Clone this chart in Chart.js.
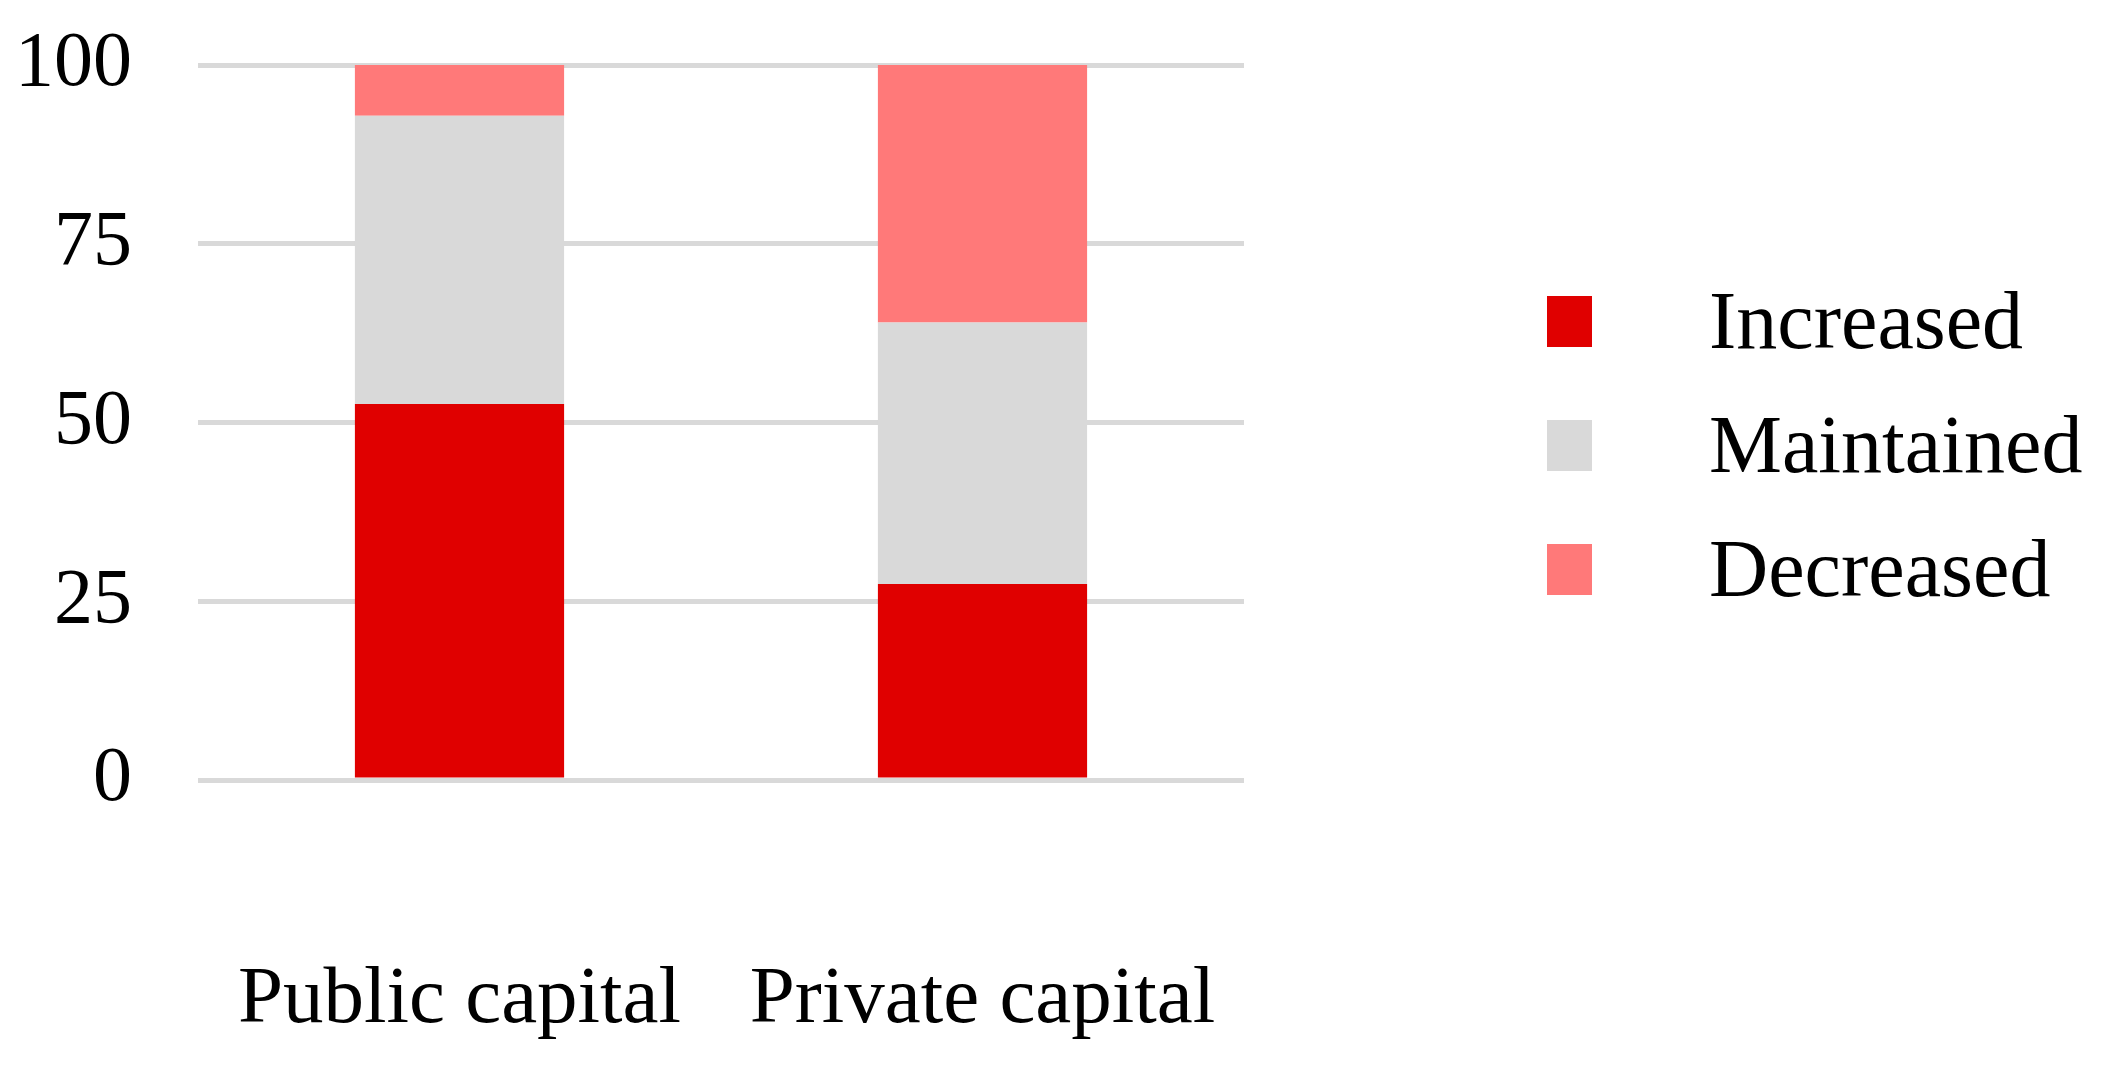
<!DOCTYPE html>
<html lang="en">
<head>
    <meta charset="UTF-8">
    <title>Capital change</title>
    <script src="https://cdn.jsdelivr.net/npm/chart.js"></script>
    <style>
        body {
            margin: 0;
            background: #ffffff;
            font-family: "Liberation Serif", serif;
        }

        #wrap {
            position: relative;
            width: 2123px;
            height: 1068px;
        }

        #legend {
            position: absolute;
            left: 1547px;
            top: 290px;
        }

        .item {
            display: flex;
            align-items: center;
            height: 62px;
            margin-bottom: 62px;
        }

        .box {
            width: 45px;
            height: 51px;
            margin-right: 117px;
        }

        .item span {
            font-size: 82px;
            color: #000;
            line-height: 1;
        }
    </style>
</head>
<body>

<div id="wrap">
    <canvas id="chart" width="2123" height="1068"></canvas>
    <div id="legend"></div>
</div>

<script>
    // data (percent)
    const categories = ['Public capital', 'Private capital'];
    const increased = [52.6, 27.4];
    const maintained = [40.3, 36.6];
    const decreased = [7.1, 36.0];
    const yTicks = [0, 25, 50, 75, 100];

    const seriesNames = ['Increased', 'Maintained', 'Decreased'];
    const seriesColors = ['#E00000', '#D9D9D9', '#FF7979'];
    const seriesData = [increased, maintained, decreased];

    const datasets = seriesNames.map((name, i) => ({
        label: name,
        data: seriesData[i],
        backgroundColor: seriesColors[i],
        borderWidth: 0,
        barPercentage: 0.4,
        categoryPercentage: 1
    }));

    Chart.defaults.font.family = '"Liberation Serif", serif';
    Chart.defaults.color = '#000';

    new Chart(document.getElementById('chart'), {
        type: 'bar',
        data: { labels: categories, datasets: datasets },
        options: {
            responsive: false,
            animation: false,
            layout: { padding: { top: 65, right: 879, left: 0, bottom: 0 } },
            plugins: {
                legend: { display: false },
                tooltip: { enabled: false }
            },
            scales: {
                x: {
                    stacked: true,
                    grid: { display: false, drawTicks: false },
                    border: { display: false },
                    ticks: { font: { size: 81 }, padding: 172, maxRotation: 0 },
                    afterFit: (scale) => { scale.height = 288; }
                },
                y: {
                    stacked: true,
                    min: 0,
                    max: 100,
                    afterBuildTicks: (scale) => { scale.ticks = yTicks.map(v => ({ value: v })); },
                    grid: { color: '#D9D9D9', lineWidth: 5, drawTicks: false },
                    border: { display: false },
                    ticks: { font: { size: 78 }, padding: 66 },
                    afterFit: (scale) => {
                        scale.width = 198;
                        // tick padding is horizontal here, don't let it push the plot down
                        scale.paddingTop = 0;
                        scale.paddingBottom = 0;
                    }
                }
            }
        }
    });

    // legend
    const legend = document.getElementById('legend');
    seriesNames.forEach((name, i) => {
        const row = document.createElement('div');
        row.className = 'item';
        row.innerHTML = `<div class="box" style="background:${seriesColors[i]}"></div><span>${name}</span>`;
        legend.appendChild(row);
    });
</script>

</body>
</html>
